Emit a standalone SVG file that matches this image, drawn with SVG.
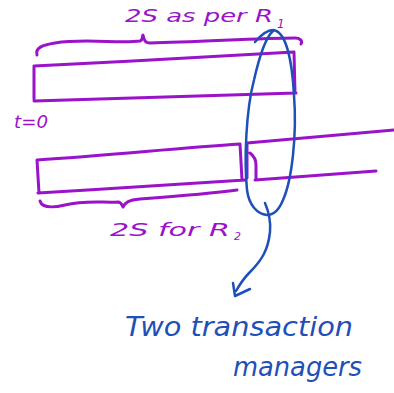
<svg xmlns="http://www.w3.org/2000/svg" width="394" height="393" viewBox="0 0 394 393">
<style>
.p{fill:none;stroke:#9a12c9;stroke-width:3;stroke-linecap:round;stroke-linejoin:round}
.b{fill:none;stroke:#1f4fb8;stroke-width:2.5;stroke-linecap:round;stroke-linejoin:round}
.tp{fill:#9a12c9;font-family:"DejaVu Sans",sans-serif;font-style:italic}
.tb{fill:#1f4fb8;font-family:"DejaVu Sans",sans-serif;font-style:italic}
</style>
<rect width="394" height="393" fill="#fff"/>
<g id="rowA">
<path class="p" d="M37,55 C35,48 42,45 55,43 C85,38 120,44 140,41 C143,40 142,37 143,35 C144,40 145,43 150,43 C200,42 260,38 295,38 C300,38 303,41 301,44"/>
<path class="p" d="M34,66 L34,99 M34,66 C120,62 220,56 294,52 L295,93 M34,101 C130,98 220,96 296,93"/>
<text class="tp" x="125" y="22" font-size="18" textLength="148" lengthAdjust="spacingAndGlyphs">2S as per R</text>
<text class="tp" x="277" y="28" font-size="12">1</text>
<text class="tp" x="14" y="128" font-size="17" textLength="34" lengthAdjust="spacingAndGlyphs">t=0</text>
</g>
<g id="rowB">
<path class="p" d="M37,160 L39,193 M37,160 C110,155 180,148 240,144 L242,180 M38,193 C110,189 190,183 245,180"/>
<path class="p" d="M40,201 C42,208 52,208 65,205 C85,200 105,203 118,202 C121,202 122,205 123,207 C125,203 128,200 140,199 C180,196 215,193 237,190"/>
<text class="tp" x="110" y="236" font-size="18" textLength="120" lengthAdjust="spacingAndGlyphs">2S for R</text>
<text class="tp" x="234" y="240" font-size="11">2</text>
</g>
<g id="rowC">
<path class="p" d="M247,178 L247,143 C300,138 350,134 394,130 M250,153 C254,156 256,160 256,165 L256,178 M255,180 C300,177 340,174 376,171"/>
</g>
<g id="tm">
<path class="b" d="M255,42 C261,35 267,30 273,30 C286,31 292,60 294,95 C297,135 292,180 283,200 C279,210 273,215 267,215 C257,214 249,205 247,190 C244,160 246,110 254,80 C259,58 265,38 273,31"/>
<text class="tb" x="125" y="336" font-size="26" textLength="228" lengthAdjust="spacingAndGlyphs">Two transaction</text>
<text class="tb" x="233" y="376" font-size="26" textLength="129" lengthAdjust="spacingAndGlyphs">managers</text>
</g>
<g id="connectors">
<path class="b" d="M265,203 C268,210 271,220 270,232 C268,250 262,260 250,272 C243,279 240,284 236,291"/>
<path class="b" d="M233,283 L235,296 L250,289"/>
</g>
</svg>
